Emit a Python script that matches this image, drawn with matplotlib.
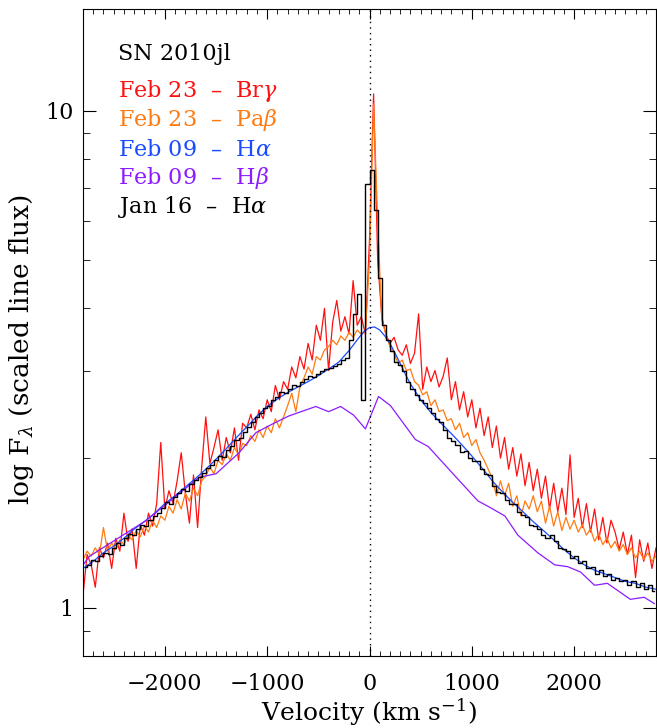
import numpy as np
import matplotlib
matplotlib.use('Agg')
import matplotlib.pyplot as plt
from matplotlib.ticker import MultipleLocator, FixedLocator, FixedFormatter, NullFormatter

plt.rcParams['font.family'] = 'DejaVu Serif'
plt.rcParams['mathtext.fontset'] = 'dejavuserif'

# Feb 23 Br gamma and Pa beta, sampled every 40 km/s
vel_grid = np.arange(-2800, 2801, 40)
brg_flux = [1.06, 1.28, 1.22, 1.10, 1.32, 1.26, 1.35, 1.20, 1.38, 1.30,
            1.55, 1.36, 1.44, 1.20, 1.47, 1.40, 1.55, 1.46, 1.62, 2.15,
            1.58, 1.72, 1.62, 1.80, 2.05, 1.70, 1.48, 1.85, 1.45, 1.92,
            2.42, 1.95, 2.10, 2.28, 1.98, 2.20, 2.05, 2.30, 1.98, 2.35,
            2.30, 2.45, 2.28, 2.50, 2.40, 2.62, 2.48, 2.80, 2.62, 2.85,
            2.75, 3.05, 2.90, 3.20, 3.02, 3.40, 3.15, 3.70, 3.45, 4.00,
            3.00, 3.75, 4.15, 3.60, 3.85, 3.55, 4.55, 3.70, 3.85, 3.55,
            5.50, 10.8, 5.00, 3.85, 3.55, 3.40, 3.50, 3.30, 3.22, 3.38,
            3.10, 3.25, 3.90, 2.75, 3.05, 2.85, 3.00, 2.78, 2.92, 3.18,
            2.62, 2.85, 2.50, 2.72, 2.42, 2.62, 2.30, 2.52, 2.22, 2.42,
            2.10, 2.32, 2.00, 2.20, 1.90, 2.10, 1.84, 2.04, 1.76, 1.96,
            1.72, 1.90, 1.66, 1.84, 1.58, 1.78, 1.56, 1.74, 1.54, 2.03,
            1.52, 1.66, 1.45, 1.62, 1.42, 1.58, 1.37, 1.52, 1.35, 1.50,
            1.42, 1.31, 1.42, 1.28, 1.40, 1.15, 1.37, 1.24, 1.35, 1.20, 1.32]
pab_flux = [1.25, 1.30, 1.27, 1.32, 1.28, 1.45, 1.30, 1.35, 1.31, 1.37,
            1.34, 1.40, 1.37, 1.43, 1.39, 1.46, 1.42, 1.50, 1.45, 1.53,
            1.50, 1.60, 1.55, 1.65, 1.58, 1.70, 1.64, 1.74, 1.68, 1.80,
            1.84, 1.92, 1.86, 1.98, 1.94, 2.04, 1.98, 2.10, 2.03, 2.14,
            2.12, 2.22, 2.16, 2.28, 2.20, 2.32, 2.25, 2.40, 2.30, 2.42,
            2.55, 2.70, 2.48, 2.78, 2.90, 3.05, 2.95, 3.20, 3.15, 3.30,
            3.35, 3.45, 3.38, 3.52, 3.45, 3.58, 3.50, 3.62, 3.55, 3.60,
            5.00, 10.3, 6.00, 3.80, 3.55, 3.35, 3.25, 3.10, 3.15, 3.00,
            3.02, 2.85, 2.80, 2.68, 2.72, 2.55, 2.62, 2.48, 2.50, 2.38,
            2.40, 2.28, 2.35, 2.20, 2.25, 2.12, 2.18, 2.05, 1.98, 1.90,
            1.82, 1.68, 1.80, 1.68, 1.78, 1.60, 1.68, 1.53, 1.64, 1.58,
            1.68, 1.56, 1.64, 1.48, 1.60, 1.46, 1.56, 1.43, 1.52, 1.44,
            1.50, 1.42, 1.47, 1.40, 1.44, 1.36, 1.41, 1.34, 1.38, 1.32,
            1.36, 1.30, 1.34, 1.28, 1.32, 1.26, 1.30, 1.25, 1.29, 1.24, 1.27]

# Jan 16 H alpha, binned spectrum (bin centres)
vel_bins = np.arange(-2780, 2781, 40)
ha_jan = [1.21, 1.22, 1.25, 1.24, 1.27, 1.29, 1.28, 1.32, 1.35, 1.34,
          1.38, 1.41, 1.40, 1.44, 1.47, 1.46, 1.50, 1.53, 1.55, 1.59,
          1.63, 1.62, 1.67, 1.70, 1.73, 1.72, 1.77, 1.81, 1.83, 1.87,
          1.91, 1.94, 1.98, 2.02, 2.01, 2.08, 2.12, 2.17, 2.20, 2.26,
          2.31, 2.36, 2.42, 2.46, 2.52, 2.55, 2.62, 2.66, 2.72, 2.70,
          2.76, 2.80, 2.79, 2.84, 2.88, 2.92, 2.91, 2.95, 3.00, 3.02,
          3.04, 3.07, 3.09, 3.15, 3.18, 3.45, 3.90, 4.28, 2.62, 7.10,
          7.60, 6.30, 4.60, 3.70, 3.45, 3.28, 3.12, 3.08, 3.00, 2.85,
          2.75, 2.68, 2.62, 2.58, 2.52, 2.46, 2.40, 2.36, 2.28, 2.20,
          2.16, 2.13, 2.06, 2.07, 2.00, 1.97, 1.97, 1.90, 1.86, 1.85,
          1.76, 1.71, 1.70, 1.65, 1.62, 1.62, 1.56, 1.54, 1.52, 1.47,
          1.46, 1.44, 1.40, 1.38, 1.40, 1.36, 1.32, 1.31, 1.30, 1.26,
          1.27, 1.23, 1.24, 1.20, 1.21, 1.17, 1.19, 1.16, 1.17, 1.14,
          1.15, 1.13, 1.14, 1.11, 1.13, 1.10, 1.12, 1.09, 1.11, 1.08]

# Feb 09 H alpha (smooth)
ha_feb_vel = [-2800, -2700, -2600, -2500, -2400, -2300, -2200, -2100, -2000, -1900,
              -1800, -1700, -1600, -1500, -1400, -1300, -1200, -1100, -1000, -900,
              -800, -700, -600, -500, -400, -300, -200, -100, -50, 0,
              50, 100, 150, 200, 250, 300, 350, 400, 500, 600,
              700, 800, 900, 1000, 1100, 1200, 1300, 1400, 1500, 1600,
              1700, 1800, 1900, 2000, 2100, 2200, 2300, 2400, 2500, 2600,
              2700, 2800]
ha_feb = [1.20, 1.24, 1.29, 1.33, 1.38, 1.44, 1.49, 1.55, 1.62, 1.68,
          1.75, 1.82, 1.90, 1.99, 2.09, 2.20, 2.31, 2.43, 2.54, 2.63,
          2.71, 2.78, 2.85, 2.93, 3.02, 3.12, 3.29, 3.50, 3.60, 3.66,
          3.67, 3.62, 3.52, 3.40, 3.25, 3.10, 2.95, 2.82, 2.62, 2.47,
          2.35, 2.24, 2.13, 2.02, 1.91, 1.80, 1.71, 1.63, 1.56, 1.49,
          1.43, 1.37, 1.31, 1.26, 1.22, 1.19, 1.17, 1.15, 1.13, 1.12,
          1.10, 1.09]

# Feb 09 H beta (coarse)
hb_vel = [-2800, -2735, -2180, -1664, -1500, -1275, -1110, -935, -790, -525,
          -400, -282, -155, -40, 88, 205, 448, 574, 837, 1060,
          1158, 1323, 1450, 1645, 1810, 1936, 2063, 2199, 2325, 2549,
          2685, 2783]
hb_flux = [1.22, 1.27, 1.50, 1.83, 1.86, 2.05, 2.25, 2.35, 2.43, 2.54,
           2.48, 2.54, 2.44, 2.29, 2.66, 2.55, 2.18, 2.11, 1.84, 1.64,
           1.60, 1.53, 1.40, 1.29, 1.22, 1.21, 1.18, 1.11, 1.12, 1.04,
           1.05, 1.02]

labels = ['SN 2010jl', 'Feb 23  –  Br$\\gamma$', 'Feb 23  –  Pa$\\beta$',
          'Feb 09  –  H$\\alpha$', 'Feb 09  –  H$\\beta$', 'Jan 16  –  H$\\alpha$']
colors = ['black', '#ff1010', '#ff7a10', '#1a4bff', '#8c1cff', 'black']

fig = plt.figure(figsize=(6.57, 7.28), dpi=100)
ax = fig.add_axes([83 / 657, 1 - 656 / 728, 573 / 657, 647 / 728])

ax.plot(vel_grid, brg_flux, color=colors[1], lw=0.9)
ax.plot(vel_grid, pab_flux, color=colors[2], lw=0.9)
ax.plot(ha_feb_vel, ha_feb, color=colors[3], lw=0.9)
ax.plot(hb_vel, hb_flux, color=colors[4], lw=0.9)
ax.plot(vel_bins, ha_jan, color='black', lw=1.0, drawstyle='steps-mid')
ax.axvline(0, color='black', ls=(0, (1, 3)), lw=1.0)

ax.set_yscale('log')
ax.set_xlim(-2800, 2800)
ax.set_ylim(0.8, 16)

ax.xaxis.set_major_locator(MultipleLocator(1000))
ax.xaxis.set_minor_locator(MultipleLocator(100))
ax.yaxis.set_major_locator(FixedLocator([1, 10]))
ax.yaxis.set_major_formatter(FixedFormatter(['1', '10']))
ax.yaxis.set_minor_locator(FixedLocator([0.9, 2, 3, 4, 5, 6, 7, 8, 9, 20]))
ax.yaxis.set_minor_formatter(NullFormatter())

ax.tick_params(which='both', direction='in', top=True, right=True, labelsize=16)
ax.tick_params(axis='x', which='major', length=7, pad=12)
ax.tick_params(axis='x', which='minor', length=3.5)
ax.tick_params(axis='y', which='major', length=9.5, pad=7)
ax.tick_params(axis='y', which='minor', length=5)

ax.set_xlabel('Velocity (km s$^{-1}$)', fontsize=18, labelpad=1)
fig.text(0.033, 0.52, 'log F$_\\lambda$ (scaled line flux)', rotation=90,
         fontsize=19, ha='center', va='center')

ys = [0.921, 0.864, 0.819, 0.773, 0.730, 0.685]
for txt, c, y in zip(labels, colors, ys):
    ax.text(0.061, y, txt, color=c, fontsize=16, transform=ax.transAxes,
            va='baseline', ha='left')

fig.savefig('out.png', dpi=100)
